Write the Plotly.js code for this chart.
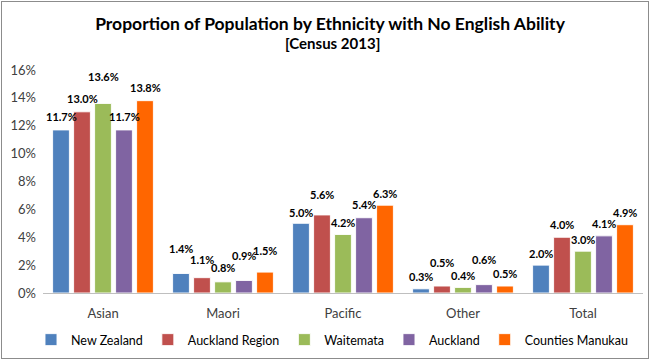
<!DOCTYPE html>
<html>
<head>
<meta charset="utf-8">
<script src="https://cdn.plot.ly/plotly-3.0.1.min.js"></script>
<style>
  html, body { margin: 0; padding: 0; background: #fff; }
  #wrap { position: relative; width: 650px; height: 360px; }
  #chart { width: 650px; height: 360px; }
  #frame { position: absolute; left: 1px; top: 1px; width: 646px; height: 356px; border: 1px solid #8c8c8c; pointer-events: none; }
</style>
</head>
<body>
<div id="wrap"><div id="chart"></div><div id="frame"></div></div>
<script>
// ---- data ----
const categories = ['Asian', 'Maori', 'Pacific', 'Other', 'Total'];
const seriesNames = ['New Zealand', 'Auckland Region', 'Waitemata', 'Auckland', 'Counties Manukau'];
const newZealand      = [11.7, 1.4, 5.0, 0.3, 2.0];
const aucklandRegion  = [13.0, 1.1, 5.6, 0.5, 4.0];
const waitemata       = [13.6, 0.8, 4.2, 0.4, 3.0];
const auckland        = [11.7, 0.9, 5.4, 0.6, 4.1];
const countiesManukau = [13.8, 1.5, 6.3, 0.5, 4.9];
const yTickValues = [0, 2, 4, 6, 8, 10, 12, 14, 16];
const yTickLabels = ['0%', '2%', '4%', '6%', '8%', '10%', '12%', '14%', '16%'];

// ---- styling ----
const seriesValues = [newZealand, aucklandRegion, waitemata, auckland, countiesManukau];
const colors = ['#4F81BD', '#C0504D', '#9BBB59', '#8064A2', '#FF6600'];
// label lift above bar top (px), per series per category (staggered as in reference)
const labelLift = [
  [13, 25, 11, 12, 12],
  [13, 18, 20, 24, 13],
  [27, 14, 12, 12, 12],
  [13, 25, 13, 25, 12],
  [13, 22, 12, 13, 12]
];
const FONT = 'Lato, "Open Sans", "Liberation Sans", sans-serif';
const slotPx = 21; // px between adjacent bars in a group

const traces = seriesNames.map((name, i) => ({
  type: 'bar',
  name: name,
  x: categories,
  y: seriesValues[i],
  marker: { color: colors[i], line: { color: 'rgba(255,255,255,0.9)', width: 1 } },
  hoverinfo: 'skip'
}));

const annotations = [];
seriesNames.forEach((name, i) => {
  categories.forEach((c, j) => {
    annotations.push({
      x: c, y: seriesValues[i][j], xref: 'x', yref: 'y',
      text: '<b>' + seriesValues[i][j].toFixed(1) + '%</b>',
      showarrow: false,
      xshift: (i - 2) * slotPx,
      yshift: labelLift[i][j],
      yanchor: 'middle',
      font: { family: FONT, size: 11, color: '#000' }
    });
  });
});
annotations.push({
  text: '<b>[Census 2013]</b>',
  xref: 'paper', yref: 'paper', x: (332 - 43) / 600, y: (293 - 43) / 223,
  xanchor: 'center', yanchor: 'middle', showarrow: false,
  font: { family: FONT, size: 15, color: '#000' }
});

const layout = {
  width: 650, height: 360,
  margin: { l: 43, r: 7, t: 70, b: 67, autoexpand: false },
  paper_bgcolor: '#fff', plot_bgcolor: '#fff',
  title: {
    text: '<b>Proportion of Population by Ethnicity with No English Ability</b>',
    x: 330 / 650, xanchor: 'center', xref: 'container',
    y: 1 - 24 / 360, yanchor: 'middle', yref: 'container',
    font: { family: FONT, size: 17.5, color: '#000' }
  },
  barmode: 'group',
  bargap: 0.125,
  bargroupgap: 0.2,
  xaxis: {
    type: 'category',
    showline: true, linecolor: '#BFBFBF', linewidth: 1,
    ticks: '', showgrid: false, zeroline: false,
    ticklabelstandoff: 8,
    tickfont: { family: FONT, size: 13, color: '#404040' }
  },
  yaxis: {
    range: [0, 16], tickvals: yTickValues, ticktext: yTickLabels,
    showgrid: false, zeroline: false, showline: false, ticks: '',
    ticklabelstandoff: 6,
    tickfont: { family: FONT, size: 13, color: '#404040' }
  },
  legend: {
    orientation: 'h',
    x: -0.02, xanchor: 'left',
    y: -(340 - 293) / 223, yanchor: 'middle',
    font: { family: FONT, size: 12.5, color: '#000' },
    itemwidth: 30, traceorder: 'normal'
  },
  annotations: annotations,
  showlegend: true
};

Plotly.newPlot('chart', traces, layout, { displayModeBar: false, staticPlot: true });
</script>
</body>
</html>
